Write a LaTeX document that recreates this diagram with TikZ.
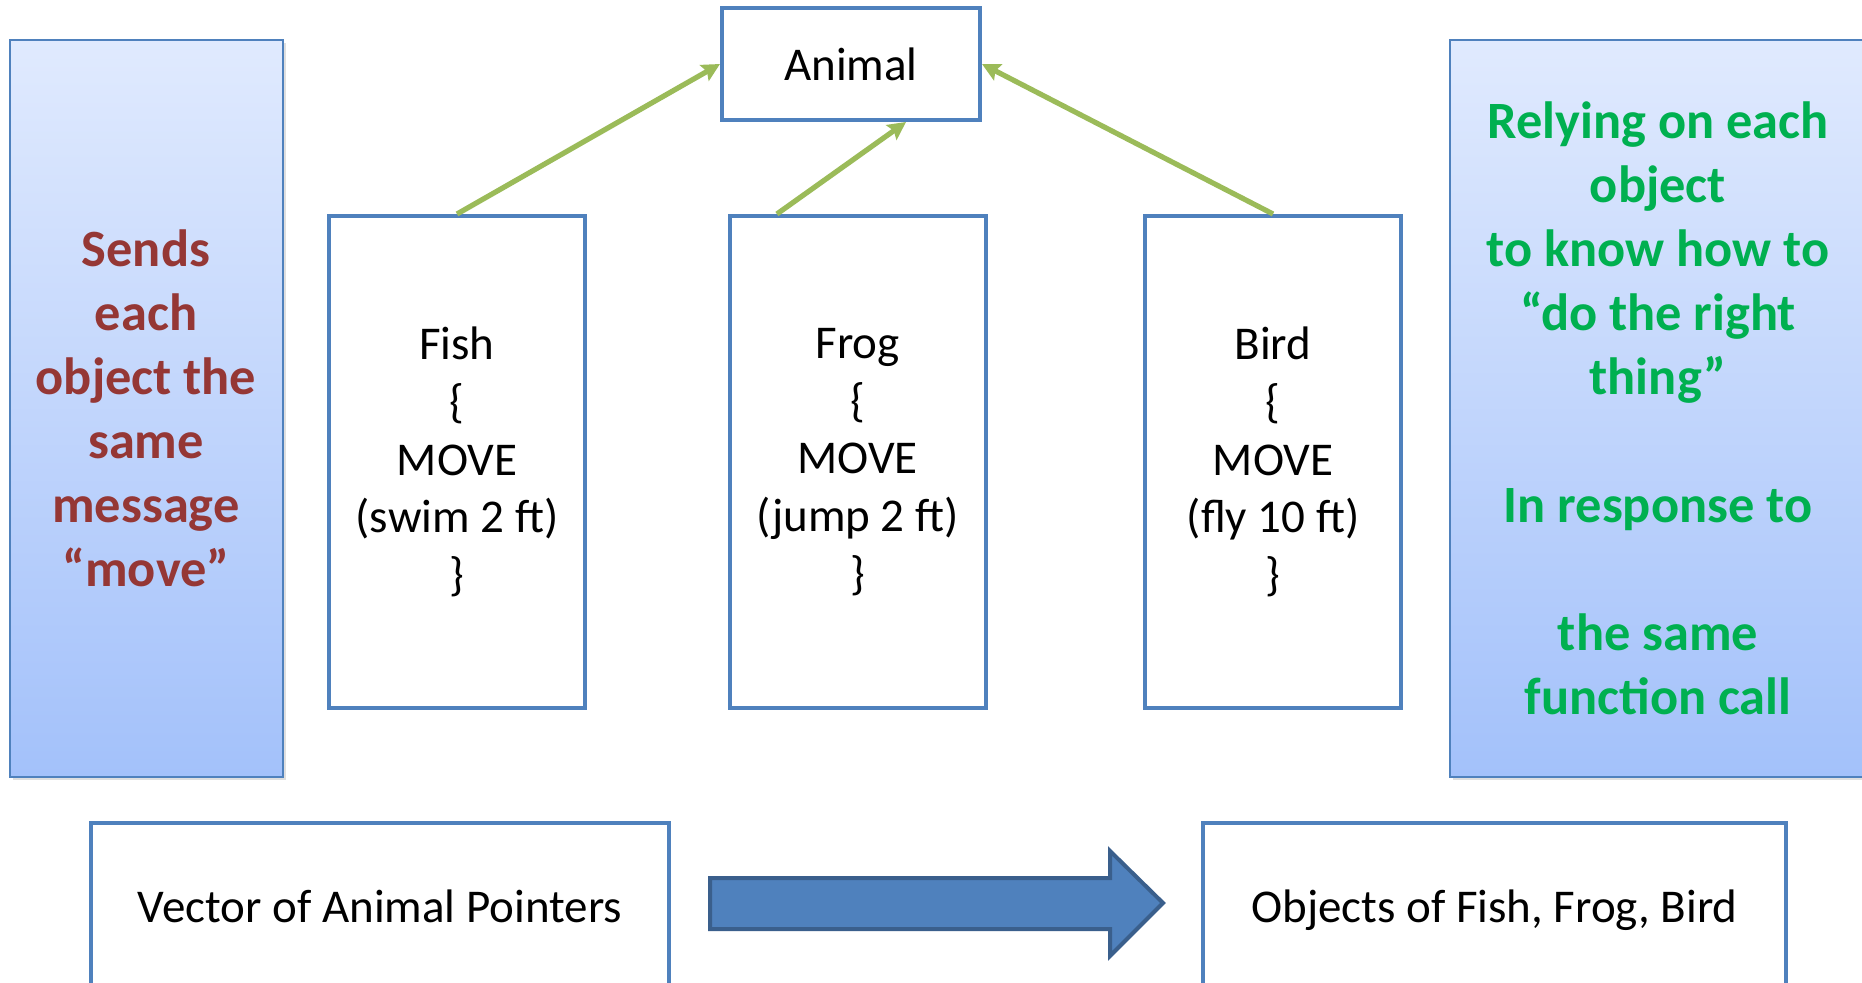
\documentclass[tikz,border=0pt]{standalone}
\usepackage{fontspec}
\setmainfont{Carlito}
\usetikzlibrary{arrows.meta,calc,shadows}

\definecolor{boxblue}{HTML}{4F81BD}
\definecolor{arrowgreen}{HTML}{9BBB59}
\definecolor{arrowborder}{HTML}{3A5F8C}
\definecolor{msgred}{HTML}{953735}
\definecolor{callgreen}{HTML}{00B050}
\definecolor{paneltop}{HTML}{E0EAFE}
\definecolor{panelbottom}{HTML}{A3C1FA}

\begin{document}
\begin{tikzpicture}[x=0.5pt,y=-0.5pt,>={Stealth[length=9pt,width=9pt,inset=1.5pt]},
  classbox/.style={rectangle,draw=boxblue,line width=2pt,fill=white,align=center,inner sep=0pt,font=\fontsize{23.5}{28.8}\selectfont},
  classbody/.style={classbox,minimum width=128pt,minimum height=246pt},
  sidepanel/.style={rectangle,draw=boxblue,line width=1pt,top color=paneltop,bottom color=panelbottom,align=center,inner sep=0pt,minimum height=368.5pt,font=\fontsize{26.2}{32}\selectfont\bfseries,drop shadow={opacity=0.25,shadow xshift=1.5pt,shadow yshift=-1.5pt}},
  inherit/.style={->,draw=arrowgreen,line width=2.6pt}]

\useasboundingbox (0,0) rectangle (1862,983);
\fill[white] (0,0) rectangle (1862,983);
\clip (0,0) rectangle (1862,983);

\node [classbox,minimum width=129pt,minimum height=56pt] (animal) at (851,64) {Animal};
\node [classbody] (fish) at (457,462) {Fish\\\{\\MOVE\\(swim 2 ft)\\\}};
\node [classbody] (frog) at (857.5,462) {Frog\\\{\\MOVE\\(jump 2 ft)\\\}};
\node [classbody] (bird) at (1273,462) {Bird\\\{\\MOVE\\(fly 10 ft)\\\}};

\node [sidepanel,text=msgred,minimum width=136.5pt] (sends) at (146,408.5) {Sends\\each\\object the\\same\\message\\“move”};
\node [sidepanel,text=callgreen,minimum width=208pt] (relying) at (1658,408.5) {Relying on each\\object\\to know how to\\“do the right\\thing”\\~\\In response to\\~\\the same\\function call};

\node [classbox,minimum width=289pt,minimum height=83pt] (vector) at (380,906) {Vector of Animal Pointers};
\node [classbox,minimum width=291.5pt,minimum height=83pt,text depth=0pt] (objects) at (1494.5,906) {Objects of Fish, Frog, Bird};

\draw [inherit] (fish.north) to (animal.west);
\draw [inherit] ($(frog.north west)!0.19!(frog.north east)$) to ($(animal.south west)!0.71!(animal.south east)$);
\draw [inherit] (bird.north) to (animal.east);

% block arrow from the vector to the objects
\draw [line width=2pt,draw=arrowborder,fill=boxblue,line join=miter] (710,878) -- (1110,878) -- (1110,851) -- (1163,903) -- (1110,956) -- (1110,929) -- (710,929) -- cycle;
\end{tikzpicture}
\end{document}
